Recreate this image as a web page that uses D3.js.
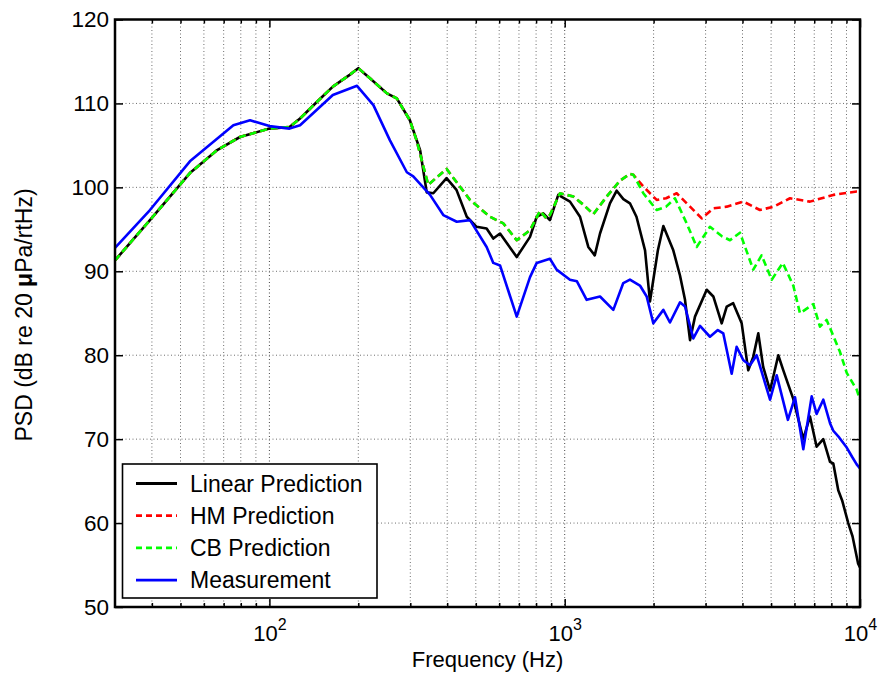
<!DOCTYPE html>
<html>
<head>
<meta charset="utf-8">
<script src="https://cdn.jsdelivr.net/npm/d3@7"></script>
<style>
  html, body { margin: 0; padding: 0; background: #fff; }
  svg { display: block; font-family: "Liberation Sans", Arial, sans-serif; }
</style>
</head>
<body>
<svg id="chart" width="880" height="675"></svg>
<script>
// Tick values
const yTicks = [50, 60, 70, 80, 90, 100, 110, 120];
const xMajor = [100, 1000, 10000];
const xMinor = [40, 50, 60, 70, 80, 90, 200, 300, 400, 500, 600, 700, 800, 900,
                2000, 3000, 4000, 5000, 6000, 7000, 8000, 9000];

// Linear prediction
const linFreq = [30, 39.4, 53.8, 66.3, 79.5, 100, 117, 127, 145, 164, 187, 200, 219, 250, 270, 299,
  324, 341, 359, 398, 430, 466, 503, 544, 573, 604, 688, 763, 804, 846, 891, 951, 1042, 1127,
  1202, 1264, 1317, 1423, 1500, 1580, 1663, 1750, 1871, 1944, 2068, 2158, 2332, 2457, 2555,
  2657, 2762, 3026, 3186, 3401, 3537, 3720, 3975, 4184, 4350, 4525, 4700, 4959, 5288, 5500,
  5716, 5943, 6427, 6770, 7130, 7510, 7915, 8121, 8440, 8700, 9125, 9437, 9848, 10000];
const linPsd = [91.3, 96.1, 101.7, 104.4, 106.0, 107.0, 107.2, 108.2, 110.2, 112.0, 113.4, 114.2, 113.0, 111.2, 110.6, 108.0,
  104.4, 99.4, 99.3, 101.1, 99.7, 96.5, 95.3, 95.1, 93.9, 94.5, 91.7, 94.1, 96.5, 96.9, 96.1, 99.1, 98.3, 96.5,
  92.9, 91.9, 94.5, 98.1, 99.6, 98.6, 98.1, 96.5, 92.5, 86.4, 92.5, 95.4, 92.5, 89.5, 86.6,
  81.8, 84.6, 87.8, 87.0, 83.8, 85.8, 86.2, 83.8, 78.2, 79.8, 82.6, 78.6, 75.8, 80.0, 78.2,
  76.5, 74.8, 70.0, 72.7, 69.1, 70.0, 67.3, 67.1, 63.9, 62.7, 60.0, 58.4, 55.2, 54.7];

// HM prediction
const hmFreq = [30, 39.4, 53.8, 66.3, 79.5, 100, 117, 127, 145, 164, 187, 200, 219, 250, 270, 299,
  315, 345, 398, 478, 558, 620, 688, 763, 825, 867, 891, 964, 1070, 1160, 1250, 1387, 1539, 1663,
  1708, 1846, 2049, 2205, 2394, 2657, 2911, 3186, 3537, 4027, 4584, 5107, 5795, 6770, 8121, 9744, 10000];
const hmPsd = [91.3, 96.1, 101.7, 104.4, 106.0, 107.0, 107.2, 108.2, 110.2, 112.0, 113.4, 114.2, 113.0, 111.2, 110.6, 108.0,
  105.6, 100.3, 102.2, 98.5, 96.5, 95.7, 93.7, 94.9, 97.2, 96.3, 96.7, 99.3, 98.9, 97.9, 96.8, 98.9, 100.8, 101.6,
  101.5, 100.1, 98.5, 98.7, 99.3, 97.7, 96.3, 97.5, 97.7, 98.3, 97.3, 97.7, 98.7, 98.3, 99.1, 99.5, 99.5];

// CB prediction
const cbFreq = [30, 39.4, 53.8, 66.3, 79.5, 100, 117, 127, 145, 164, 187, 200, 219, 250, 270, 299,
  315, 345, 398, 478, 558, 620, 688, 763, 825, 867, 891, 964, 1070, 1160, 1250, 1387, 1539, 1663,
  1708, 1846, 2049, 2205, 2363, 2589, 2799, 3104, 3400, 3628, 3922, 4350, 4641, 5024, 5477,
  5943, 6263, 6948, 7318, 7710, 8553, 9017, 9744, 10000];
const cbPsd = [91.3, 96.1, 101.7, 104.4, 106.0, 107.0, 107.2, 108.2, 110.2, 112.0, 113.4, 114.2, 113.0, 111.2, 110.6, 108.0,
  105.6, 100.3, 102.2, 98.5, 96.5, 95.7, 93.7, 94.9, 97.2, 96.3, 96.7, 99.3, 98.9, 97.9, 96.8, 98.9, 100.8, 101.6,
  101.5, 99.3, 97.3, 97.7, 98.7, 95.7, 92.9, 95.3, 94.2, 93.7, 94.6, 90.2, 91.9, 89.0, 91.0,
  88.3, 85.0, 86.1, 83.4, 84.2, 80.4, 77.9, 75.9, 74.7];

// Measurement
const measFreq = [30, 39.4, 53.8, 75.5, 86, 100, 117, 127, 164, 198, 225, 256, 292, 307, 350,
  388, 431, 478, 544, 573, 604, 688, 763, 804, 891, 939, 1042, 1100, 1187, 1317, 1461, 1579, 1663,
  1798, 1895, 1996, 2158, 2272, 2457, 2555, 2726, 2872, 3104, 3300, 3444, 3677, 3822, 4027, 4240,
  4467, 4959, 5223, 5700, 6025, 6427, 6860, 7130, 7510, 7915, 8121, 8500, 9017, 9400, 9744, 10000];
const measPsd = [92.8, 97.3, 103.1, 107.4, 108.0, 107.3, 107.0, 107.4, 111.0, 112.1, 109.8, 105.6, 101.8, 101.3, 99.1,
  96.7, 95.9, 96.1, 92.9, 91.0, 90.7, 84.6, 89.3, 91.0, 91.5, 90.2, 89.0, 88.8, 86.6, 87.0, 85.4, 88.6, 89.0,
  88.3, 87.0, 83.8, 85.4, 83.9, 86.3, 85.8, 82.0, 83.5, 82.2, 83.0, 82.6, 77.8, 81.0, 79.4, 78.8,
  80.0, 74.7, 77.6, 72.3, 75.0, 68.8, 75.1, 73.0, 74.7, 71.9, 71.0, 70.2, 69.0, 67.9, 67.0, 66.5];

const seriesNames = ["Linear Prediction", "HM Prediction", "CB Prediction", "Measurement"];
const seriesColors = ["#000000", "#ff0000", "#00ff00", "#0000ff"];
const seriesDash = [null, "7,4", "7,4", null];

const series = [
  { freq: linFreq, psd: linPsd },
  { freq: hmFreq, psd: hmPsd },
  { freq: cbFreq, psd: cbPsd },
  { freq: measFreq, psd: measPsd }
].map((s, i) => ({
  name: seriesNames[i], color: seriesColors[i], dash: seriesDash[i],
  points: s.freq.map((f, j) => ({ f, v: s.psd[j] }))
}));

const box = { left: 115, right: 860, top: 19.5, bottom: 607 };
const x = d3.scaleLog().domain([30, 10000]).range([box.left, box.right]);
const y = d3.scaleLinear().domain([50, 120]).range([box.bottom, box.top]);

const svg = d3.select("#chart");
const FONT = 22.5;

// Dotted grid
const grid = svg.append("g").attr("fill", "none");
grid.selectAll("line.gx").data(xMinor.concat([100, 1000])).join("line")
  .attr("x1", d => x(d)).attr("x2", d => x(d))
  .attr("y1", box.top).attr("y2", box.bottom)
  .attr("stroke", d => (d === 100 || d === 1000) ? "#444" : "#6e6e6e")
  .attr("stroke-width", 1).attr("stroke-dasharray", "1,2.5");
grid.selectAll("line.gy").data(yTicks.filter(v => v > 50 && v < 120)).join("line")
  .attr("x1", box.left).attr("x2", box.right)
  .attr("y1", d => y(d)).attr("y2", d => y(d))
  .attr("stroke", "#6e6e6e").attr("stroke-width", 1).attr("stroke-dasharray", "1,2.5");

// Axes with inward ticks
function styleAxis(g) {
  g.select(".domain").remove();
  g.selectAll(".tick line").attr("stroke", "#000").attr("stroke-width", 1.5);
}
svg.append("g").attr("transform", `translate(${box.left},0)`)
  .call(d3.axisLeft(y).tickValues(yTicks).tickSize(-8).tickPadding(6).tickFormat(d3.format("d")))
  .call(styleAxis)
  .call(g => g.selectAll(".tick text").attr("font-size", FONT).attr("fill", "#000")
    .attr("font-family", "Liberation Sans, Arial, sans-serif"));
svg.append("g").attr("transform", `translate(${box.right},0)`)
  .call(d3.axisRight(y).tickValues(yTicks).tickSize(-8).tickFormat(""))
  .call(styleAxis);

const xb = svg.append("g").attr("transform", `translate(0,${box.bottom})`)
  .call(d3.axisBottom(x).tickValues(xMajor).tickSize(-8).tickFormat(""))
  .call(styleAxis);
svg.append("g").attr("transform", `translate(0,${box.bottom})`)
  .call(d3.axisBottom(x).tickValues(xMinor).tickSize(-4).tickFormat(""))
  .call(styleAxis);
svg.append("g").attr("transform", `translate(0,${box.top})`)
  .call(d3.axisTop(x).tickValues(xMajor).tickSize(-8).tickFormat(""))
  .call(styleAxis);
svg.append("g").attr("transform", `translate(0,${box.top})`)
  .call(d3.axisTop(x).tickValues(xMinor).tickSize(-4).tickFormat(""))
  .call(styleAxis);

// Power-of-ten labels: "10" with a superscript exponent
xb.selectAll(".tick").each(function (d) {
  const t = d3.select(this).append("text")
    .attr("y", 34).attr("text-anchor", "middle")
    .attr("fill", "#000").attr("font-size", 22)
    .attr("font-family", "Liberation Sans, Arial, sans-serif");
  t.append("tspan").text("10");
  t.append("tspan").attr("font-size", 16).attr("dy", -11).text(Math.round(Math.log10(d)));
});

// Curves
const line = d3.line().x(d => x(d.f)).y(d => y(d.v));
const curves = svg.append("g").attr("fill", "none");
series.forEach(s => {
  curves.append("path").datum(s.points)
    .attr("d", line)
    .attr("stroke", s.color).attr("stroke-width", 2.6)
    .attr("stroke-linejoin", "round")
    .attr("stroke-dasharray", s.dash);
});

// Frame
svg.append("rect")
  .attr("x", box.left).attr("y", box.top)
  .attr("width", box.right - box.left).attr("height", box.bottom - box.top)
  .attr("fill", "none").attr("stroke", "#000").attr("stroke-width", 2.5);

// Axis titles
svg.append("text")
  .attr("x", (box.left + box.right) / 2).attr("y", 667)
  .attr("text-anchor", "middle").attr("font-size", 22).attr("fill", "#000")
  .text("Frequency (Hz)");

const yl = svg.append("text")
  .attr("transform", "translate(32,315) rotate(-90)")
  .attr("text-anchor", "middle").attr("font-size", 23).attr("fill", "#000");
yl.append("tspan").text("PSD (dB re 20 ");
yl.append("tspan").attr("font-weight", "bold").text("μ");
yl.append("tspan").text("Pa/rtHz)");

// Legend
const legend = svg.append("g");
legend.append("rect")
  .attr("x", 122.5).attr("y", 464).attr("width", 254.5).attr("height", 134)
  .attr("fill", "#fff").attr("stroke", "#000").attr("stroke-width", 1.6);
series.forEach((s, i) => {
  const cy = 483.5 + i * 32.2;
  legend.append("line")
    .attr("x1", 136).attr("x2", 177).attr("y1", cy).attr("y2", cy)
    .attr("stroke", s.color).attr("stroke-width", 2.8)
    .attr("stroke-dasharray", s.dash ? "6,4" : null);
  legend.append("text")
    .attr("x", 190).attr("y", cy).attr("dy", "0.35em")
    .attr("font-size", 23).attr("fill", "#000")
    .text(s.name);
});
</script>
</body>
</html>
